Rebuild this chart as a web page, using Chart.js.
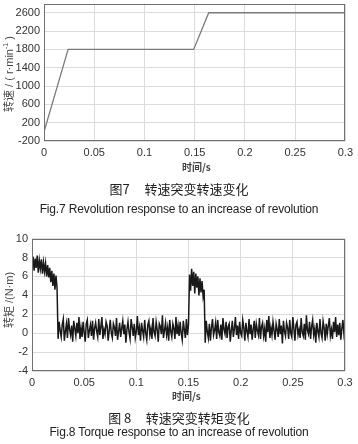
<!DOCTYPE html>
<html>
<head>
<meta charset="utf-8">
<script src="https://cdn.jsdelivr.net/npm/chart.js@4.4.0/dist/chart.umd.min.js"></script>
<style>
    body { margin: 0; background: #fff; width: 358px; height: 444px; position: relative; overflow: hidden; font-family: "Liberation Sans", Arial, sans-serif; }
    canvas { position: absolute; left: 0; }
    .txt { position: absolute; white-space: nowrap; color: #222; }
    .cap { left: 0; width: 358px; text-align: center; }
    .zh { font-family: "Noto Sans CJK SC", sans-serif; font-size: 13px; }
    .en { font-size: 12px; letter-spacing: -0.15px; }
    .xt { font-family: "Noto Sans CJK SC", sans-serif; font-size: 10px; color: #444; font-weight: bold; }
    .yt { font-family: "Noto Sans CJK SC", sans-serif; font-size: 11px; color: #444; transform: translate(-50%, -50%) rotate(-90deg); }
    .lat { font-family: "Liberation Sans", Arial, sans-serif; }
</style>
</head>
<body>
<canvas id="speedChart" width="358" height="185" style="top:-7px"></canvas>
<canvas id="torqueChart" width="358" height="173" style="top:228px"></canvas>

<div class="txt yt" style="left:8px; top:74px">转速<span class="lat"> / ( r·min<sup style="font-size:7px">-1</sup> )</span></div>
<div class="txt xt" style="left:182px; top:159px">时间/s</div>
<div class="txt cap zh" style="top:179px">图7&nbsp;&nbsp;&nbsp;&nbsp;&nbsp;转速突变转速变化</div>
<div class="txt cap en" style="top:202px">Fig.7 Revolution response to an increase of revolution</div>

<div class="txt yt" style="left:8px; top:300px">转矩<span class="lat"> /(N·m)</span></div>
<div class="txt xt" style="left:172px; top:388px">时间/s</div>
<div class="txt cap zh" style="top:408px">图 8&nbsp;&nbsp;&nbsp;&nbsp;&nbsp;转速突变转矩变化</div>
<div class="txt cap en" style="top:425px">Fig.8 Torque response to an increase of revolution</div>

<script>
// Fig.7 speed response (r/min)
const speedTime = [0, 0.024, 0.149, 0.164, 0.3];
const speedValues = [0, 1800, 1800, 2600, 2600];
const speedTicks = [-200, 200, 600, 1000, 1400, 1800, 2200, 2600];

// shared time axis
const timeTicks = [0, 0.05, 0.1, 0.15, 0.2, 0.25, 0.3];
const timeLabels = ['0', '0.05', '0.1', '0.15', '0.2', '0.25', '0.3'];

// Fig.8 torque (N·m), one sample per ms
const sampleStep = 0.001;
const torqueStart = [7.0, 8.1, 6.6, 7.9, 6.9, 8.2, 6.4, 7.7, 6.8, 7.8,
    6.3, 7.5, 6.5, 7.4, 6.0, 7.2, 5.9, 6.9, 5.4, 6.6,
    5.0, 6.3, 4.6, 6.1, 4.8];
const torqueLow1 = [-0.6, 1.2, 0.3, -0.4, 0.9, 1.5, -0.8, 0.2, 1.0, -0.5,
    1.6, 0.4, -0.2, 0.8, -0.9, 1.3, 0.5, -0.3, 1.1, 0.0,
    1.7, -0.6, 0.6, -0.4, 1.2, 0.1, -0.9, 1.0, 1.4, -0.5,
    0.3, 0.9, -0.3, 1.3, -0.7, 0.5, 1.1, 0.2, -0.4, 1.5,
    -0.2, 0.7, 1.7, -0.6, 0.4, -0.1, 1.2, 0.8, -0.8, 0.3,
    1.4, 0.0, -0.5, 1.0, 0.6, -0.3, 1.6, -0.7, 0.2, 1.1,
    -0.4, 0.5, 1.3, -0.1, 0.9, -1.0, 0.4, 1.2, 0.1, -0.6,
    1.5, 0.7, -0.3, 1.0, -0.5, 0.2, 1.8, -0.2, 0.6, -0.8,
    1.1, 0.3, -0.4, 1.4, 0.0, -0.7, 0.9, 1.3, -0.2, 0.5,
    -0.6, 1.6, 0.1, -0.3, 1.2, 0.4, -0.9, 1.0, 0.7, -0.1,
    1.9, -0.5, 0.3, 1.1, -0.2, 0.6, -0.8, 1.4, 0.2, -0.4,
    1.0, 0.5, -0.6, 1.7, -0.1, 0.8, -0.3, 1.2, 0.0, -0.7,
    1.3, 0.4, -0.5, 1.5, -0.2, 0.9];
const torqueBump = [6.2, 4.5, 6.8, 5.0, 6.5, 4.2, 6.3, 4.8, 6.0, 4.0,
    5.8, 4.3, 5.5, 3.9, 4.6];
const torqueLow2 = [-1.0, 1.3, 0.2, -0.5, 1.0, -0.8, 0.6, 1.5, -0.2, 0.3,
    1.1, -0.6, 1.4, 0.1, -0.3, 0.9, -0.7, 1.6, 0.4, -0.1,
    1.2, -0.5, 0.7, 1.0, -0.9, 0.3, 1.3, -0.4, 0.5, 1.7,
    -0.2, 0.8, -0.6, 1.2, 0.0, -0.3, 1.4, 0.6, -0.8, 1.1,
    0.2, -0.4, 1.5, -0.1, 0.9, -0.7, 0.4, 1.3, -0.5, 1.0,
    0.3, -0.2, 1.6, -0.6, 0.7, 1.1, -0.3, 0.5, -0.9, 1.4,
    0.1, 1.8, -0.5, 0.6, -0.2, 1.2, 0.3, -0.7, 1.0, 0.4,
    -0.4, 1.5, -0.1, 0.8, -1.1, 1.3, 0.2, -0.3, 1.1, 0.6,
    -0.6, 1.4, 0.0, -0.4, 1.7, 0.5, -0.8, 0.9, 1.2, -0.2,
    0.4, -0.5, 1.6, 0.1, -0.3, 1.0, -0.7, 1.9, 0.3, -0.1,
    1.2, -0.6, 0.7, 1.4, -0.2, 0.5, -1.0, 1.1, 0.2, -0.4,
    1.5, 0.0, -0.5, 1.3, 0.6, -0.8, 1.0, -0.1, 0.8, 1.6,
    -0.3, 0.4, -0.6, 1.2, 0.1, 1.7, -0.4, 0.9, -0.2, 1.1,
    -0.7, 0.5, 1.4, -0.1, 0.6];
const torqueTicks = [-4, -2, 0, 2, 4, 6, 8, 10];

const torqueValues = torqueStart.concat(torqueLow1, torqueBump, torqueLow2);

// matlab style full box around the plot area
const boxPlugin = {
    id: 'box',
    afterDraw(chart) {
        const { ctx, chartArea: a } = chart;
        ctx.save();
        ctx.strokeStyle = '#707070';
        ctx.lineWidth = 1;
        ctx.strokeRect(Math.round(a.left) + 0.5, Math.round(a.top) + 0.5,
            Math.round(a.right - a.left) - 1, Math.round(a.bottom - a.top) - 1);
        ctx.restore();
    }
};

const tickFont = { family: '"Liberation Sans", Arial, sans-serif', size: 11 };

function makeOptions(yTicks, yMin, yMax, yWidth, xHeight, padRight) {
    return {
        responsive: false,
        animation: false,
        devicePixelRatio: 1,
        layout: { padding: { top: 10, right: padRight, left: 0, bottom: 0 } },
        plugins: { legend: { display: false }, tooltip: { enabled: false } },
        scales: {
            x: {
                type: 'linear',
                min: 0,
                max: 0.3,
                afterBuildTicks: s => { s.ticks = timeTicks.map(v => ({ value: v })); },
                afterFit: s => { s.height = xHeight; },
                grid: { color: '#dcdcdc', drawTicks: false },
                border: { display: false },
                ticks: {
                    padding: 5,
                    color: '#333',
                    font: tickFont,
                    maxRotation: 0,
                    callback: v => timeLabels[timeTicks.indexOf(v)]
                }
            },
            y: {
                min: yMin,
                max: yMax,
                afterBuildTicks: s => { s.ticks = yTicks.map(v => ({ value: v })); },
                afterFit: s => { s.width = yWidth; },
                grid: { color: '#dcdcdc', drawTicks: false },
                border: { display: false },
                ticks: { padding: 4, color: '#333', font: tickFont, callback: v => String(v) }
            }
        }
    };
}

new Chart(document.getElementById('speedChart'), {
    type: 'line',
    data: {
        datasets: [{
            data: speedTime.map((t, i) => ({ x: t, y: speedValues[i] })),
            borderColor: '#7a7a7a',
            borderWidth: 1.3,
            pointRadius: 0,
            fill: false
        }]
    },
    options: makeOptions(speedTicks, -200, 2800, 44, 37, 11),
    plugins: [boxPlugin]
});

new Chart(document.getElementById('torqueChart'), {
    type: 'line',
    data: {
        datasets: [{
            data: torqueValues.map((v, i) => ({ x: i * sampleStep, y: v })),
            borderColor: 'rgba(0,0,0,0.9)',
            borderWidth: 1.5,
            pointRadius: 0,
            fill: false
        }]
    },
    options: makeOptions(torqueTicks, -4, 10, 32, 30, 13),
    plugins: [boxPlugin]
});
</script>
</body>
</html>
